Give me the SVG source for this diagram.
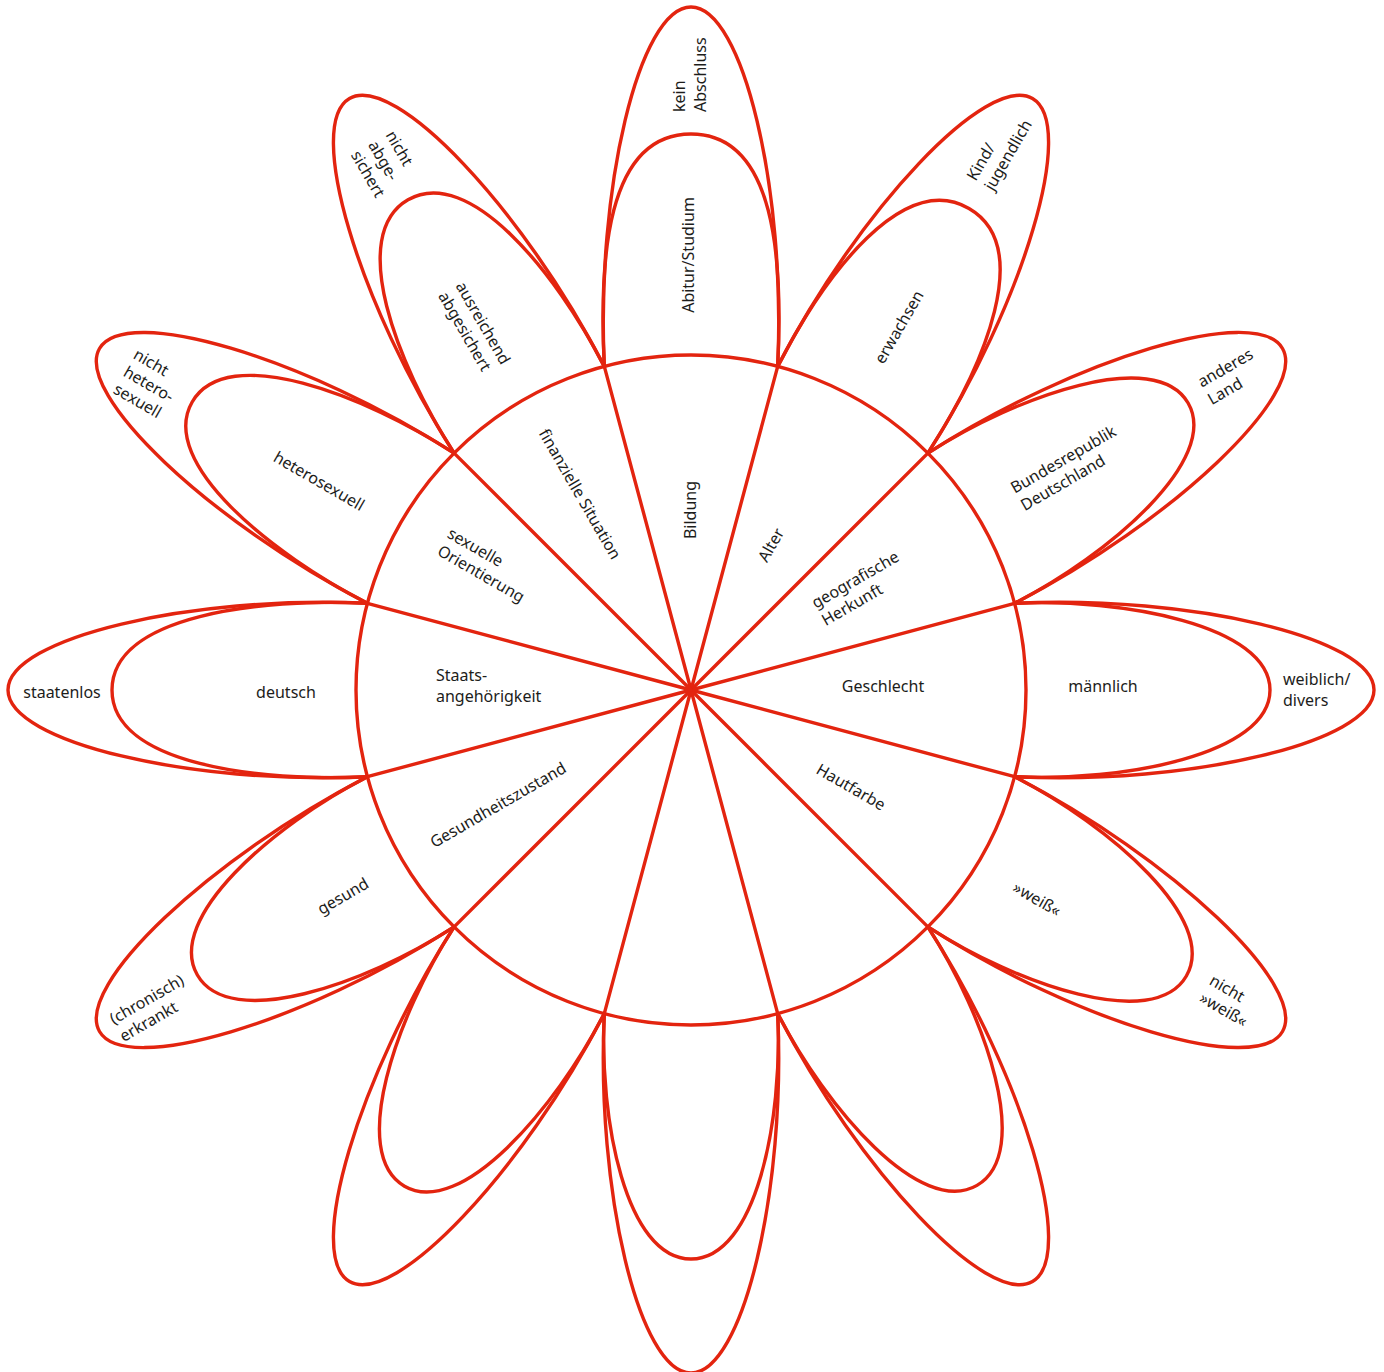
<svg xmlns="http://www.w3.org/2000/svg" xmlns:xlink="http://www.w3.org/1999/xlink" width="1384" height="1372" viewBox="0 0 1384 1372">
<style>
.ln{fill:none;stroke:#e3240f;stroke-width:3.4;stroke-linejoin:round;stroke-linecap:round}
.t{font-family:"Noto Sans","Liberation Sans",sans-serif;font-size:16px;fill:#1d1d1b}
.c{text-anchor:middle}
</style>
<defs>
<path id="outer" class="ln" d="M604.3 366.4 C596 190 639 7 691 7 C743 7 786 190 777.7 366.4"/>
<line id="spoke" class="ln" x1="691" y1="690" x2="604.3" y2="366.4"/>
</defs>
<rect width="1384" height="1372" fill="#fff"/>
<g id="connectors">
<use href="#spoke"/>
<use href="#spoke" transform="rotate(30 691 690)"/>
<use href="#spoke" transform="rotate(60 691 690)"/>
<use href="#spoke" transform="rotate(90 691 690)"/>
<use href="#spoke" transform="rotate(120 691 690)"/>
<use href="#spoke" transform="rotate(150 691 690)"/>
<use href="#spoke" transform="rotate(180 691 690)"/>
<use href="#spoke" transform="rotate(210 691 690)"/>
<use href="#spoke" transform="rotate(240 691 690)"/>
<use href="#spoke" transform="rotate(270 691 690)"/>
<use href="#spoke" transform="rotate(300 691 690)"/>
<use href="#spoke" transform="rotate(330 691 690)"/>
</g>
<g id="hub"><circle class="ln" cx="691" cy="690" r="335"/></g>

<g id="petal-bildung">
<use href="#outer"/>
<path class="ln" d="M604.3 366.4 C599 260 606 134 691 134 C776 134 783 260 777.7 366.4"/>
<text class="t c" transform="translate(690,510) rotate(-90)" dy="0.35em">Bildung</text>
<text class="t c" transform="translate(688,255) rotate(-90)" dy="0.35em">Abitur/Studium</text>
<text class="t" transform="translate(679,112) rotate(-90)"><tspan x="0" dy="0.35em">kein</tspan><tspan x="0" dy="21">Abschluss</tspan></text>
</g>

<g id="petal-alter">
<g transform="rotate(30 691 690)">
<use href="#outer"/>
<path class="ln" d="M604.3 366.4 C599 260 616 134 691 134 C766 134 783 260 777.7 366.4"/>
</g>
<text class="t c" transform="translate(771,545) rotate(-60)" dy="0.35em">Alter</text>
<text class="t c" transform="translate(899,327) rotate(-60)" dy="0.35em">erwachsen</text>
<text class="t" transform="translate(971,179) rotate(-60)"><tspan x="0" dy="0.35em">Kind/</tspan><tspan x="0" dy="20">jugendlich</tspan></text>
</g>

<g id="petal-herkunft">
<g transform="rotate(60 691 690)">
<use href="#outer"/>
<path class="ln" d="M604.3 366.4 C599 260 626 116 691 116 C756 116 783 260 777.7 366.4"/>
</g>
<text class="t" transform="translate(813,604) rotate(-30)"><tspan x="0" dy="0.35em">geografische</tspan><tspan x="0" dy="20">Herkunft</tspan></text>
<text class="t" transform="translate(1012,489) rotate(-30)"><tspan x="0" dy="0.35em">Bundesrepublik</tspan><tspan x="0" dy="20">Deutschland</tspan></text>
<text class="t" transform="translate(1199,383) rotate(-30)"><tspan x="0" dy="0.35em">anderes</tspan><tspan x="0" dy="20">Land</tspan></text>
</g>

<g id="petal-geschlecht">
<g transform="rotate(90 691 690)">
<use href="#outer"/>
<path class="ln" d="M604.3 366.4 C599 260 626 111 691 111 C756 111 783 260 777.7 366.4"/>
</g>
<text class="t c" x="883" y="686" dy="0.35em">Geschlecht</text>
<text class="t c" x="1103" y="686" dy="0.35em">männlich</text>
<text class="t"><tspan x="1283" y="685">weiblich/</tspan><tspan x="1283" y="706">divers</tspan></text>
</g>

<g id="petal-hautfarbe">
<g transform="rotate(120 691 690)">
<use href="#outer"/>
<path class="ln" d="M604.3 366.4 C599 260 626 118 691 118 C756 118 783 260 777.7 366.4"/>
</g>
<text class="t c" transform="translate(851,787) rotate(30)" dy="0.35em">Hautfarbe</text>
<text class="t c" transform="translate(1037,899) rotate(30)" dy="0.35em">»weiß«</text>
<text class="t" transform="translate(1211,979) rotate(30)"><tspan x="0" dy="0.35em">nicht</tspan><tspan x="0" dy="20">»weiß«</tspan></text>
</g>

<g id="petal-5">
<g transform="rotate(150 691 690)">
<use href="#outer"/>
<path class="ln" d="M604.3 366.4 C599 260 626 118 691 118 C756 118 783 260 777.7 366.4"/>
</g>
</g>

<g id="petal-6">
<g transform="rotate(180 691 690)">
<use href="#outer"/>
<path class="ln" d="M604.3 366.4 C599 260 626 121 691 121 C756 121 783 260 777.7 366.4"/>
</g>
</g>

<g id="petal-7">
<g transform="rotate(210 691 690)">
<use href="#outer"/>
<path class="ln" d="M604.3 366.4 C599 260 626 117 691 117 C756 117 783 260 777.7 366.4"/>
</g>
</g>

<g id="petal-gesundheit">
<g transform="rotate(240 691 690)">
<use href="#outer"/>
<path class="ln" d="M604.3 366.4 C599 260 626 120 691 120 C756 120 783 260 777.7 366.4"/>
</g>
<text class="t c" transform="translate(498,805) rotate(-30)" dy="0.35em">Gesundheitszustand</text>
<text class="t c" transform="translate(343,896) rotate(-30)" dy="0.35em">gesund</text>
<text class="t" transform="translate(111,1020) rotate(-30)"><tspan x="0" dy="0.35em">(chronisch)</tspan><tspan x="0" dy="20">erkrankt</tspan></text>
</g>

<g id="petal-staat">
<g transform="rotate(270 691 690)">
<use href="#outer"/>
<path class="ln" d="M604.3 366.4 C599 260 616 111 691 111 C766 111 783 260 777.7 366.4"/>
</g>
<text class="t"><tspan x="436" y="681">Staats-</tspan><tspan x="436" y="702">angehörigkeit</tspan></text>
<text class="t c" x="286" y="692" dy="0.35em">deutsch</text>
<text class="t c" x="62" y="692" dy="0.35em">staatenlos</text>
</g>

<g id="petal-orientierung">
<g transform="rotate(300 691 690)">
<use href="#outer"/>
<path class="ln" d="M604.3 366.4 C599 260 621 114 691 114 C761 114 783 260 777.7 366.4"/>
</g>
<text class="t" transform="translate(449,532) rotate(30)"><tspan x="0" dy="0.35em">sexuelle</tspan><tspan x="0" dy="20">Orientierung</tspan></text>
<text class="t c" transform="translate(319,481) rotate(30)" dy="0.35em">heterosexuell</text>
<text class="t" transform="translate(135,353) rotate(30)"><tspan x="0" dy="0.35em">nicht</tspan><tspan x="0" dy="20">hetero-</tspan><tspan x="0" dy="20">sexuell</tspan></text>
</g>

<g id="petal-finanzen">
<g transform="rotate(330 691 690)">
<use href="#outer"/>
<path class="ln" d="M604.3 366.4 C599 260 621 124 691 124 C761 124 783 260 777.7 366.4"/>
</g>
<text class="t c" transform="translate(580,494) rotate(60)" dy="0.35em">finanzielle Situation</text>
<text class="t" transform="translate(460,283) rotate(60)"><tspan x="0" dy="0.35em">ausreichend</tspan><tspan x="0" dy="20">abgesichert</tspan></text>
<text class="t" transform="translate(390,132) rotate(60)"><tspan x="0" dy="0.35em">nicht</tspan><tspan x="0" dy="20">abge-</tspan><tspan x="0" dy="20">sichert</tspan></text>
</g>
</svg>
